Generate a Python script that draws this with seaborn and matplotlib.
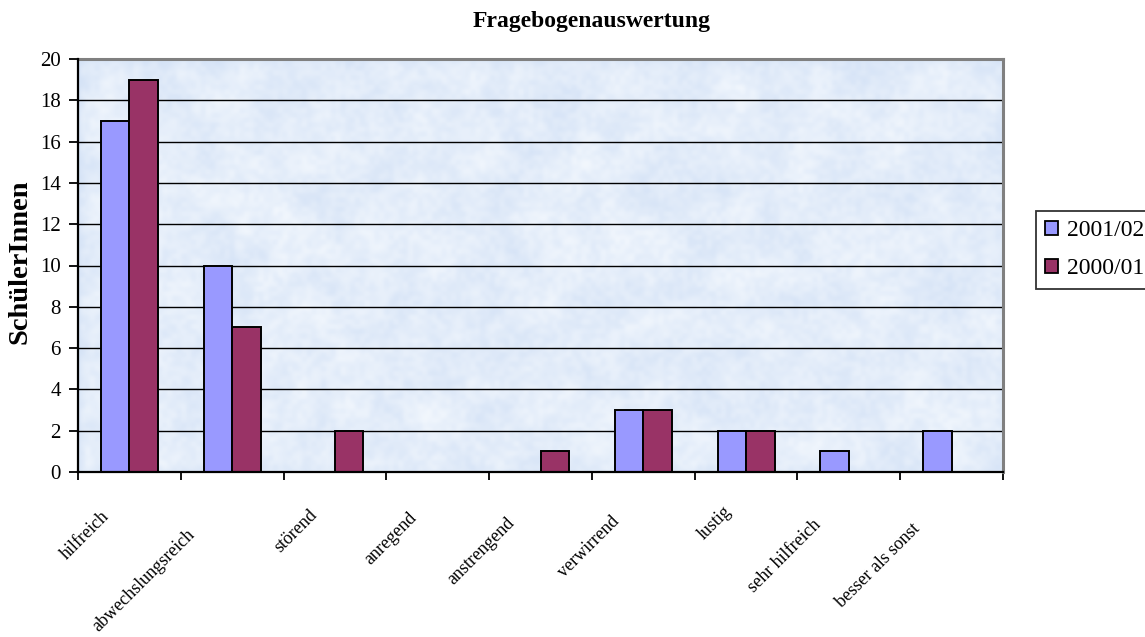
import numpy as np
import pandas as pd
import matplotlib
matplotlib.use("Agg")
import matplotlib.pyplot as plt
import matplotlib.transforms as mtransforms
from matplotlib.patches import Patch
import seaborn as sns

categories = ["hilfreich", "abwechslungsreich", "störend", "anregend", "anstrengend",
              "verwirrend", "lustig", "sehr hilfreich", "besser als sonst"]
series_names = ["2001/02", "2000/01"]
values_2001_02 = [17, 10, 0, 0, 0, 3, 2, 1, 2]
values_2000_01 = [19, 7, 2, 0, 1, 3, 2, 0, 0]
y_ticks = [0, 2, 4, 6, 8, 10, 12, 14, 16, 18, 20]

colors = {"2001/02": "#9999FF", "2000/01": "#993366"}

df = pd.DataFrame({
    "Kategorie": categories * 2,
    "Jahrgang": [series_names[0]] * len(categories) + [series_names[1]] * len(categories),
    "Anzahl": values_2001_02 + values_2000_01,
})

sns.set_theme(style="white")
plt.rcParams["font.family"] = ["Liberation Serif", "DejaVu Serif"]
plt.rcParams["text.color"] = "black"
plt.rcParams["axes.labelcolor"] = "black"
plt.rcParams["xtick.color"] = "black"
plt.rcParams["ytick.color"] = "black"

DPI = 100
W, H = 1145, 637
fig = plt.figure(figsize=(W / DPI, H / DPI), dpi=DPI)
ax = fig.add_axes([78 / W, 1 - 472 / H, 925 / W, 413 / H])

# Mottled light-blue paper texture for the plot area
rng = np.random.default_rng(11)
def smooth_noise(shape, reps):
    a = rng.random(shape)
    a = np.kron(a, np.ones((reps, reps)))
    k = np.ones(reps) / reps
    for _ in range(2):
        a = np.apply_along_axis(lambda r: np.convolve(r, k, mode="same"), 0, a)
        a = np.apply_along_axis(lambda r: np.convolve(r, k, mode="same"), 1, a)
    return a

n1 = smooth_noise((22, 48), 8)
n2 = smooth_noise((88, 192), 2)[: n1.shape[0], : n1.shape[1]]
mix = 0.6 * n1 + 0.4 * n2
mix = (mix - mix.min()) / (mix.max() - mix.min())
dark = np.array([212, 226, 246]) / 255.0
light = np.array([242, 247, 253]) / 255.0
tex = dark + (light - dark) * mix[..., None]
ax.imshow(tex, extent=(-0.5, 8.5, 0, 20), aspect="auto", interpolation="bilinear",
          zorder=0)

sns.barplot(data=df, x="Kategorie", y="Anzahl", hue="Jahrgang", order=categories,
            hue_order=series_names, palette=colors, width=0.555, gap=0,
            edgecolor="black", linewidth=1.4, saturation=1, ax=ax, legend=False,
            zorder=3)

ax.set_xlim(-0.5, len(categories) - 0.5)
ax.set_ylim(0, 20)
ax.set_yticks(y_ticks)
ax.set_yticklabels([str(v) for v in y_ticks], fontsize=15)
for v in y_ticks[1:]:
    ax.axhline(v, color="black", linewidth=1.0, zorder=1)

# tick marks on the category boundaries, labels placed separately
ax.set_xticks(np.arange(len(categories) + 1) - 0.5)
ax.set_xticklabels([])
ax.tick_params(axis="x", direction="out", length=5.5, width=1.3, bottom=True)
ax.tick_params(axis="y", direction="out", length=6.5, width=1.3, left=True, pad=6)
ax.set_xlabel("")
ax.set_ylabel("SchülerInnen", fontsize=20.5, fontweight="bold")
ax.yaxis.set_label_coords(-0.049, 0.508)

for side in ["left", "bottom"]:
    ax.spines[side].set_color("black")
    ax.spines[side].set_linewidth(1.6)
    ax.spines[side].set_zorder(5)
for side in ["top", "right"]:
    ax.spines[side].set_color("#808080")
    ax.spines[side].set_linewidth(2.2)

fig.text(592 / W, 1 - 27 / H, "Fragebogenauswertung", fontsize=17, fontweight="bold",
         ha="center", va="baseline")

# rotated category labels: the rotated box's top-right corner sits below the
# category, shifted down-left in proportion to the label's extent
fig.canvas.draw()
renderer = fig.canvas.get_renderer()
base = ax.get_xaxis_transform()
for i, lab in enumerate(categories):
    t = ax.text(i, 0, lab, fontsize=13, rotation=45, ha="right", va="top",
                transform=base)
    bw = t.get_window_extent(renderer).width
    e = 0.33 * bw - 2
    off = mtransforms.ScaledTranslation(-e / DPI, -(20 + e) / DPI, fig.dpi_scale_trans)
    t.set_transform(base + off)

handles = [Patch(facecolor=colors[n], edgecolor="black", linewidth=1.3, label=n)
           for n in series_names]
leg = fig.legend(handles=handles, loc="center left",
                 bbox_to_anchor=(1036 / W, 1 - 250 / H), frameon=True,
                 fancybox=False, fontsize=17, handlelength=0.55, handleheight=0.55,
                 handletextpad=0.35, labelspacing=0.72, borderpad=0.4,
                 borderaxespad=0)
leg.get_frame().set_edgecolor("black")
leg.get_frame().set_linewidth(1.3)

fig.savefig("out.png", dpi=DPI)
